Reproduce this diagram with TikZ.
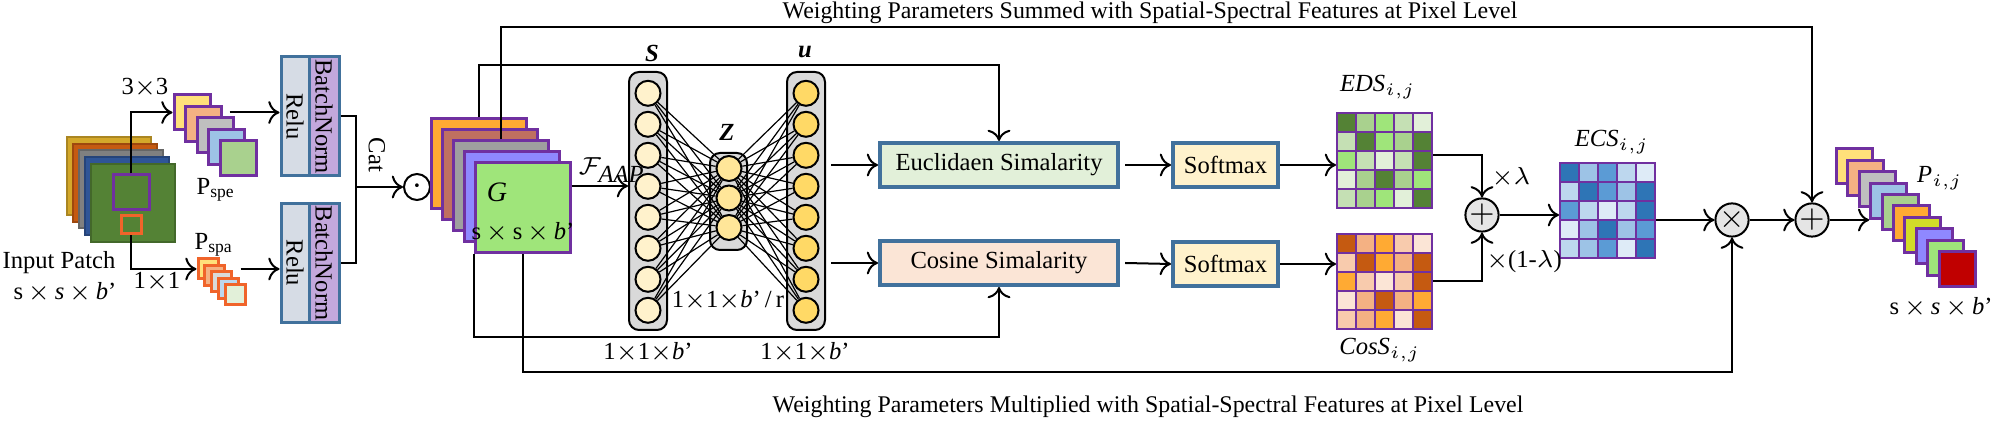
\documentclass[tikz,border=0pt]{standalone}
\usepackage{fontspec}
\setmainfont{Liberation Serif}
\usetikzlibrary{arrows.meta,calc}
\definecolor{purp}{HTML}{7030A0}
\definecolor{boxb}{HTML}{41719C}
\definecolor{edsd}{HTML}{548235}\definecolor{edsm}{HTML}{A9D18E}\definecolor{edsb}{HTML}{9FE57A}
\definecolor{edsl}{HTML}{C5E0B4}\definecolor{edsv}{HTML}{E2F0D9}
\definecolor{cosd}{HTML}{C55A11}\definecolor{cosm}{HTML}{F4B183}\definecolor{cosb}{HTML}{FFAA33}
\definecolor{cosl}{HTML}{F8CBAD}\definecolor{cosv}{HTML}{FBE5D6}
\definecolor{ecsd}{HTML}{2E75B6}\definecolor{ecsm}{HTML}{9DC3E6}\definecolor{ecsb}{HTML}{5B9BD5}
\definecolor{ecsl}{HTML}{BDD7EE}\definecolor{ecsv}{HTML}{DEEBF7}
\definecolor{gold}{HTML}{D4A82A}\definecolor{navy}{HTML}{2F5597}
\definecolor{pale}{HTML}{FFE07A}\definecolor{brick}{HTML}{C07060}
\definecolor{lilac}{HTML}{8F88FF}\definecolor{lime}{HTML}{D2DC28}
\definecolor{red0}{HTML}{C00000}\definecolor{cream}{HTML}{FFF2CC}
\definecolor{unitu}{HTML}{FFD966}\definecolor{unitz}{HTML}{FFE699}
\definecolor{slate}{HTML}{D6DCE5}\definecolor{bnv}{HTML}{C3A8DC}
\definecolor{orng}{HTML}{F0642A}
\newcommand{\ssb}{s$\,\times\,$\textit{s}$\,\times\,$\textit{b}'}
\newcommand{\oob}{1$\times$1$\times$\textit{b}'}
\tikzset{
  >={To[length=3.2pt,width=6.5pt]},
  every path/.style={line width=0.2mm},
  lbl/.style={font=\fontsize{7}{8}\selectfont,inner sep=1pt},
  note/.style={font=\fontsize{6.8}{8}\selectfont,inner sep=1pt},
  sheet/.style={draw=purp,line width=0.3mm,inner sep=0},
  blk/.style={draw=boxb,line width=0.4mm,minimum height=4.4mm,inner sep=0,font=\fontsize{7}{8}\selectfont},
  col/.style={draw,fill=gray!30,rounded corners=1mm,minimum width=3.8mm,inner sep=0},
  unit/.style={draw,circle,minimum size=2.5mm,inner sep=0},
  op/.style={draw,circle,fill=gray!20,minimum size=3mm,inner sep=0,font=\fontsize{9}{9}\selectfont},
  cell/.style={draw=purp,line width=0.25mm},
}
\begin{document}
\begin{tikzpicture}[x=0.1mm,y=-0.1mm]
  \useasboundingbox (0,0) rectangle (1999,422);
  % input patch
  \foreach \c [count=\k from 0] in {gold,cosd,gray,navy,edsd}
    \node[draw=\c!80!black,fill=\c,minimum width=8.4mm,minimum height=7.8mm,inner sep=0] (in\k) at (109+6*\k,176+6.75*\k) {};
  \node[sheet,minimum width=3.6mm,minimum height=3.5mm] (win) at (131,192.5) {};
  \node[draw=orng,line width=0.3mm,minimum width=2mm,minimum height=1.8mm,inner sep=0] (wsp) at (131,225) {};
  \node[lbl] at (59,263) {Input Patch};
  \node[lbl] at (65,292) {\ssb};
  % spectral and spatial branches
  \foreach \c [count=\k from 0] in {pale,cosm,gray!50,ecsm,edsm}
    \node[sheet,fill=\c,minimum width=3.6mm,minimum height=3.5mm] (e\k) at (192+11.5*\k,112.5+11.5*\k) {};
  \foreach \c [count=\k from 0] in {pale,cosm,gray!30,ecsl,edsv}
    \node[draw=orng,line width=0.3mm,fill=\c,minimum size=2mm,inner sep=0] (a\k) at (208+6.75*\k,269+6.5*\k) {};
  \node[lbl] at (145,88) {3$\times$3};
  \node[lbl] at (157,282) {1$\times$1};
  \node[lbl] at (216,190) {P$_{\mathrm{spe}}$};
  \node[lbl] at (214,245) {P$_{\mathrm{spa}}$};
  \foreach \n/\y in {1/116.5,2/263}{
    \node[draw=boxb,line width=0.3mm,fill=slate,minimum width=2.8mm,minimum height=11.9mm,inner sep=0] (relu\n) at (295,\y) {};
    \node[draw=boxb,line width=0.3mm,fill=bnv,minimum width=3mm,minimum height=11.9mm,inner sep=0] (bn\n) at (324,\y) {};
    \node[lbl,rotate=-90] at (relu\n) {Relu};
    \node[lbl,rotate=-90] at (bn\n) {BatchNorm};
  }
  \draw[->] (win.north) |- (e0.west);
  \draw[->] (wsp.south) |- (a0.west);
  \draw[->] ([xshift=1.8mm]e0.east) -- (e0 -| relu1.west);
  \draw[->] ([xshift=2.1mm]a0.east) -- (a0 -| relu2.west);
  \coordinate (jn) at (356,187);
  \draw (bn1.east) -| (jn) |- (bn2.east);
  \node[lbl,rotate=-90] at (377,155) {Cat};
  \node[draw,circle,minimum size=2.6mm,inner sep=0,font=\fontsize{10}{10}\selectfont] (dot) at (417,187) {$\cdot$};
  \draw[->] (jn) -- (dot.west);
  % feature G
  \foreach \c [count=\k from 0] in {cosb,brick,gray!75,lilac,edsb}
    \node[sheet,fill=\c,minimum width=9.5mm,minimum height=9mm] (g\k) at (478.5+11*\k,164+11*\k) {};
  \node[lbl,font=\fontsize{8}{8}\selectfont] at (497,192) {\textit{G}};
  \node[lbl] at (523,232) {s$\,\times\,$s$\,\times\,$\textit{b}'};
  % squeeze and excitation
  \node[col,minimum height=25.8mm] (scol) at (648,201) {};
  \node[col,minimum height=9.7mm,minimum width=3.7mm] (zcol) at (728.5,201.5) {};
  \node[col,minimum height=25.8mm] (ucol) at (806,201) {};
  \foreach \k in {1,...,8}{
    \node[unit,fill=cream] (s\k) at (648,62.3+31*\k) {};
    \node[unit,fill=unitu] (u\k) at (806,62.3+31*\k) {};
  }
  \foreach \k in {1,2,3}
    \node[unit,fill=unitz] (z\k) at (729,139+29.5*\k) {};
  \foreach \i in {1,...,8}
    \foreach \j in {1,2,3}{
      \draw[line width=0.12mm] (s\i) -- (z\j);
      \draw[line width=0.12mm] (z\j) -- (u\i);
    }
  \node[lbl] at (652,53) {\textbf{\textit{S}}};
  \node[lbl] at (727,132) {\textbf{\textit{Z}}};
  \node[lbl] at (805,52) {\textbf{\textit{u}}};
  \node[lbl] at (728,300) {\oob\,/\,r};
  \node[lbl] at (648,352) {\oob};
  \node[lbl] at (805,352) {\oob};
  \node[lbl,anchor=west] at (574,170) {$\mathcal{F}_{\textit{AAP}}$};
  \draw[->] ([yshift=2.2mm]g4.east) -- ([yshift=2.2mm]g4.east -| scol.west);
  % similarity
  \node[blk,fill=edsv,minimum width=23.8mm] (eucl) at (999,165) {Euclidaen Simalarity};
  \node[blk,fill=cosv,minimum width=23.8mm] (cosn) at (999,263) {Cosine Simalarity};
  \node[blk,fill=cream,minimum width=10.5mm] (sm1) at (1225.5,165) {Softmax};
  \node[blk,fill=cream,minimum width=10.5mm] (sm2) at (1225.5,264) {Softmax};
  \draw[->] ([xshift=0.5mm]ucol.east |- eucl) -- (eucl.west);
  \draw[->] ([xshift=0.5mm]ucol.east |- cosn) -- (cosn.west);
  \draw[->] ([xshift=0.5mm]eucl.east) -- (sm1.west);
  \draw[->] ([xshift=0.5mm]cosn.east) -- (sm2.west);
  % matrices
  \foreach \m/\x/\y in {eds/1337/113,cos/1337/234,ecs/1560/163}{
    \node[minimum size=9.5mm,inner sep=0] (\m) at (\x+47.5,\y+47.5) {};
    \foreach \row [count=\r from 0] in {{d,m,b,l,v},{l,d,b,m,d},{b,l,v,l,d},{v,m,d,m,b},{l,m,b,v,d}}
      \foreach \q [count=\c from 0] in \row
        \filldraw[cell,fill=\m\q] (\x+19*\c,\y+19*\r) rectangle ++(19,19);
  }
  \node[lbl] at (1378,87) {\textit{EDS}$_{i,j}$};
  \node[lbl] at (1380,350) {\textit{CosS}$_{i,j}$};
  \node[lbl] at (1612,142) {\textit{ECS}$_{i,j}$};
  \draw[->] (sm1.east) -- (sm1 -| eds.west);
  \draw[->] (sm2.east) -- (sm2 -| cos.west);
  \node[op] (add1) at (1482,215) {$+$};
  \node[op] (mul) at (1732,220) {$\times$};
  \node[op] (add2) at (1812,220) {$+$};
  \draw[->] ([yshift=0.5mm]eds.east) -| (add1.north);
  \draw[->] (cos.east) -| (add1.south);
  \node[lbl] at (1511,177) {$\times\lambda$};
  \node[lbl] at (1524,262) {$\times$(1-$\lambda$)};
  \draw[->] (add1.east) -- (add1 -| ecs.west);
  \draw[->] (ecs.east |- mul) -- (mul.west);
  \draw[->] (mul.east) -- (add2.west);
  % output
  \foreach \c [count=\k from 0] in {pale,cosm,gray!50,ecsm,edsm,cosb,lime,lilac,edsb,red0}
    \node[sheet,fill=\c,minimum width=3.6mm,minimum height=3.5mm] (p\k) at (1854.5+11.4*\k,166.5+11.4*\k) {};
  \draw[->] (add2.east) -- (add2 -| p3.west);
  \node[lbl] at (1940,178) {\textit{P}$_{i,j}$};
  \node[lbl,anchor=east] at (1997,307) {\ssb};
  % weighting paths
  \coordinate (t1) at (999,65);
  \coordinate (t2) at (1812,27);
  \coordinate (b1) at (999,337);
  \coordinate (b2) at (1732,372);
  \draw[->] (g0.north) |- (t1) -- (eucl.north);
  \draw[->] (g2.north) |- (t2) -- (add2.north);
  \draw[->] (g4.south west) |- (b1) -- (cosn.south);
  \draw[->] (g4.south) |- (b2) -- (mul.south);
  \node[note] at (1150,13) {Weighting Parameters Summed with Spatial-Spectral Features at Pixel Level};
  \node[note] at (1148,407) {Weighting Parameters Multiplied with Spatial-Spectral Features at Pixel Level};
\end{tikzpicture}
\end{document}
